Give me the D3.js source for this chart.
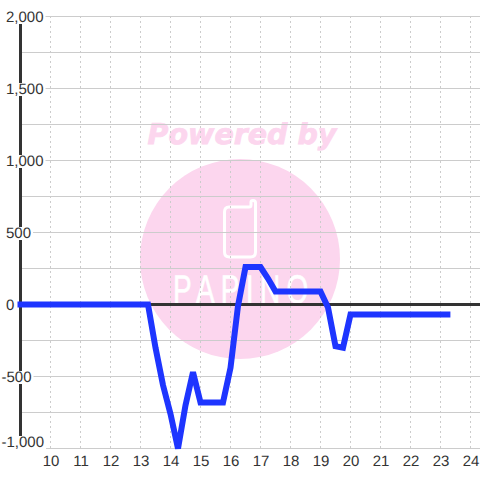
<!DOCTYPE html>
<html><head><meta charset="utf-8">
<script src="https://cdn.jsdelivr.net/npm/d3@7"></script>
<style>html,body{margin:0;padding:0;background:#fff}svg{display:block}text{font-family:"Liberation Sans",Arial,sans-serif;text-rendering:geometricPrecision}</style>
</head><body><svg id="c" width="480" height="480"></svg>
<script>
const xTicks=[10,11,12,13,14,15,16,17,18,19,20,21,22,23,24];
const yTicks=[-1000,-750,-500,-250,0,250,500,750,1000,1250,1500,1750,2000];
const yLabels=[-1000,-500,0,500,1000,1500,2000];
const hours=[8.9,13.25,13.5,13.75,14,14.25,14.5,14.75,15,15.75,16,16.25,16.5,17,17.25,17.5,19,19.25,19.5,19.75,20,23.33];
const values=[0,0,-300,-560,-760,-1000,-700,-470,-680,-680,-440,-10,260,260,180,90,90,-20,-290,-300,-70,-70];
const svg=d3.select("#c");
const x=d3.scaleLinear().domain([10,24]).range([50.5,470.5]);
const y=d3.scaleLinear().domain([-1000,2000]).range([448.5,16.5]);
// watermark
const wm=svg.append("g");
wm.append("circle").attr("cx",240).attr("cy",259).attr("r",100).attr("fill","#fcd6ee");
wm.append("text").attr("x",242).attr("y",144).attr("text-anchor","middle").style("font-family","'DejaVu Sans'").attr("font-size",28.5).attr("font-weight","bold").attr("font-style","italic").attr("fill","#fcd6ee").attr("stroke","#fcd6ee").attr("stroke-width",0.8).text("Powered by");
wm.append("path").attr("d","M229 207H249Q251 207 251 205V202Q251 200.500 253 200.500Q255.500 200.500 255.500 203V252Q255.500 257 250.500 257H229.500Q224.500 257 224.500 252V212Q224.500 207 229 207Z").attr("fill","none").attr("stroke","#fff").attr("stroke-width",3);
wm.append("text").attr("transform","translate(173,303) scale(0.7,1)").attr("font-size",40).attr("letter-spacing",9).attr("fill","#fff").attr("stroke","#fff").attr("stroke-width",0.6).text("PAPINO");
// grid
svg.append("g").selectAll("line").data(yTicks).join("line").attr("x1",22).attr("x2",480).attr("y1",d=>y(d)).attr("y2",d=>y(d)).attr("stroke","#ccc").attr("stroke-width",1);
svg.append("g").selectAll("line").data(xTicks).join("line").attr("x1",d=>x(d)).attr("x2",d=>x(d)).attr("y1",16).attr("y2",448).attr("stroke","#ccc").attr("stroke-dasharray","2,3");
// axes
svg.append("line").attr("x1",20).attr("x2",480).attr("y1",y(0)).attr("y2",y(0)).attr("stroke","#333").attr("stroke-width",3);
svg.append("line").attr("x1",20.5).attr("x2",20.5).attr("y1",16).attr("y2",448).attr("stroke","#333").attr("stroke-width",3);
const line=d3.line().x((d,i)=>x(hours[i])).y(d=>y(d));
svg.append("path").attr("d",line(values)).attr("fill","none").attr("stroke","#1e35ff").attr("stroke-width",6).attr("stroke-linejoin","miter");
// labels with white backing
const labelBase=d=>d===-1000?447:y(d)+5.5;
const lg=svg.append("g").selectAll("g").data(yLabels).join("g");
const labelRect=lg.append("rect").attr("fill","#fff");
const labelText=lg.append("text").attr("x",d=>d<0?1.5:6).attr("y",labelBase).attr("font-size",15).attr("fill","#333").text(d=>d3.format(",")(d).replace("−","-"));
labelText.each(function(d,i){
  const b=this.getBBox();
  d3.select(labelRect.nodes()[i]).attr("x",b.x).attr("width",b.width+2).attr("y",labelBase(d)-11).attr("height",13);
});
svg.append("g").selectAll("text").data(xTicks).join("text").attr("x",d=>x(d)+0.5).attr("y",466).attr("text-anchor","middle").attr("font-size",15).attr("fill","#333").text(d=>d);
</script></body></html>
